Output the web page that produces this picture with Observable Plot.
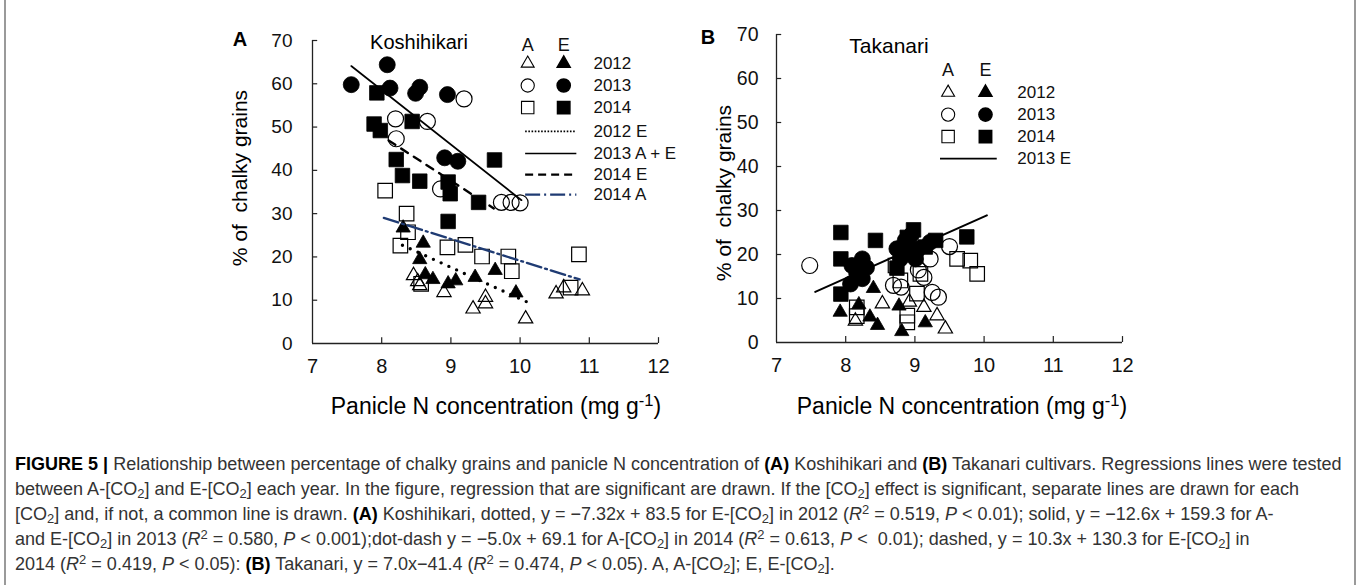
<!DOCTYPE html>
<html><head><meta charset="utf-8">
<script src="https://cdn.jsdelivr.net/npm/d3@7"></script>
<script src="https://cdn.jsdelivr.net/npm/@observablehq/plot@0.6"></script>
<style>
body{margin:0;background:#fff;}
#fig{position:relative;width:1358px;height:585px;overflow:hidden;font-family:"Liberation Sans",Arial,Helvetica,sans-serif;color:#000;}
#frame{position:absolute;left:4px;top:-3px;width:1348px;height:600px;border-left:2px solid #9a9a9a;border-right:2px solid #9a9a9a;}
.abs{position:absolute;white-space:nowrap;line-height:1;transform:translate(-50%,-50%);}
.plot{position:absolute;top:0;}
#caption{position:absolute;left:15px;top:452px;color:#333;white-space:nowrap;}
#caption div{height:25px;line-height:25px;}
#caption b{color:#000;}
sub{font-size:0.72em;vertical-align:-0.25em;line-height:0;}
sup{font-size:0.72em;vertical-align:0.45em;line-height:0;}
</style></head>
<body>
<div id="fig">
  <div id="frame"></div>
  <div class="abs" style="left:240px;top:39px;font-weight:bold;font-size:20px;">A</div>
  <div class="abs" style="left:708px;top:37px;font-weight:bold;font-size:20px;">B</div>
  <div class="abs" style="left:419px;top:42px;font-size:20px;">Koshihikari</div>
  <div class="abs" style="left:889px;top:45px;font-size:21px;">Takanari</div>
  <div class="abs" style="left:239px;top:178px;font-size:21px;transform:translate(-50%,-50%) rotate(-90deg);">% of&nbsp; chalky grains</div>
  <div class="abs" style="left:723px;top:193px;font-size:21px;transform:translate(-50%,-50%) rotate(-90deg);">% of&nbsp; chalky grains</div>
  <div class="abs" style="left:496px;top:406px;font-size:23px;">Panicle N concentration (mg g<sup>-1</sup>)</div>
  <div class="abs" style="left:962px;top:406px;font-size:23px;">Panicle N concentration (mg g<sup>-1</sup>)</div>
  <div id="caption">
    <div id="cap1"><b>FIGURE 5 |</b> Relationship between percentage of chalky grains and panicle N concentration of <b>(A)</b> Koshihikari and <b>(B)</b> Takanari cultivars. Regressions lines were tested</div>
    <div>between A-[CO<sub>2</sub>] and E-[CO<sub>2</sub>] each year. In the figure, regression that are significant are drawn. If the [CO<sub>2</sub>] effect is significant, separate lines are drawn for each</div>
    <div>[CO<sub>2</sub>] and, if not, a common line is drawn. <b>(A)</b> Koshihikari, dotted, y = −7.32x + 83.5 for E-[CO<sub>2</sub>] in 2012 (<i>R</i><sup>2</sup> = 0.519, <i>P</i> &lt; 0.01); solid, y = −12.6x + 159.3 for A-</div>
    <div>and E-[CO<sub>2</sub>] in 2013 (<i>R</i><sup>2</sup> = 0.580, <i>P</i> &lt; 0.001);dot-dash y = −5.0x + 69.1 for A-[CO<sub>2</sub>] in 2014 (<i>R</i><sup>2</sup> = 0.613, <i>P</i> &lt;&nbsp; 0.01); dashed, y = 10.3x + 130.3 for E-[CO<sub>2</sub>] in</div>
    <div>2014 (<i>R</i><sup>2</sup> = 0.419, <i>P</i> &lt; 0.05): <b>(B)</b> Takanari, y = 7.0x−41.4 (<i>R</i><sup>2</sup> = 0.474, <i>P</i> &lt; 0.05). A, A-[CO<sub>2</sub>]; E, E-[CO<sub>2</sub>].</div>
  </div>
</div>
<script>
const FONT = '"Liberation Sans", Arial, Helvetica, sans-serif';
const xTicks = [7, 8, 9, 10, 11, 12];
const yTicks = [0, 10, 20, 30, 40, 50, 60, 70];

// ---- Koshihikari (A) : [panicle N, % chalky] ----
const koshiA2012 = [[8.46,15.7],[8.55,13.4],[8.52,14.3],[8.90,11.8],[9.32,8.0],[9.50,10.7],[9.50,9.2],[10.08,5.7],[10.52,11.5],[10.63,12.9],[10.90,12.2]];
const koshiE2012 = [[8.31,26.7],[8.60,23.2],[8.55,19.4],[8.63,15.9],[8.74,14.8],[8.96,13.8],[9.07,14.5],[9.35,15.3],[9.64,16.9],[9.94,11.7]];
const koshiA2013 = [[8.20,51.9],[8.66,51.3],[8.21,47.3],[9.19,56.5],[8.85,35.7],[9.73,32.6],[9.87,32.6],[10.00,32.5]];
const koshiE2013 = [[7.56,59.8],[8.08,64.4],[8.12,59.0],[8.55,59.2],[8.49,57.8],[8.95,57.5],[8.91,42.9],[9.10,42.1]];
const koshiA2014 = [[8.05,35.3],[8.36,30.0],[8.38,25.7],[8.27,22.6],[8.95,22.2],[9.21,22.8],[9.45,20.1],[9.83,20.1],[9.88,16.7],[10.85,20.6],[10.73,12.9],[8.57,13.8]];
const koshiE2014 = [[7.93,57.9],[7.89,50.7],[7.98,49.2],[8.44,51.3],[8.21,42.5],[8.30,38.8],[8.55,37.5],[8.96,37.3],[9.63,42.4],[8.99,34.6],[9.40,32.6],[8.96,28.2]];
// regression line end points
const koshiLine2012E = [[8.30,22.7],[10.14,9.3]];
const koshiLine2013 = [[7.56,64.1],[10.02,33.1]];
const koshiLine2014E = [[8.10,46.9],[9.62,31.2]];
const koshiLine2014A = [[8.03,29.0],[10.86,14.8]];

// ---- Takanari (B) ----
const takaA2012 = [[8.14,4.9],[8.53,8.8],[8.92,9.2],[9.13,8.0],[9.32,6.1],[9.44,3.1]];
const takaE2012 = [[7.92,6.9],[8.19,8.6],[8.35,5.8],[8.46,3.9],[8.40,12.3],[8.77,8.3],[8.81,2.5],[9.15,4.5]];
const takaA2013 = [[7.48,17.5],[9.50,21.8],[9.22,19.0],[9.13,14.8],[8.69,13.0],[8.80,12.6],[9.25,11.4],[9.34,10.3],[9.05,16.5]];
const takaE2013 = [[8.24,19.0],[8.09,17.5],[8.16,15.6],[8.07,13.3],[8.24,14.5],[8.30,17.0],[8.74,21.3],[8.79,19.0],[8.86,23.2],[8.93,20.5],[9.05,21.3],[9.01,19.0],[9.22,22.8],[8.95,24.5]];
const takaA2014 = [[9.61,19.0],[9.80,18.6],[9.90,15.6],[9.08,15.6],[8.72,17.5],[8.79,14.1],[9.03,11.1],[8.89,6.1],[8.16,8.0],[8.16,6.0],[8.89,4.6]];
const takaE2014 = [[7.93,25.0],[8.43,23.2],[7.93,19.0],[7.93,11.0],[8.98,25.6],[8.89,23.9],[8.74,16.9],[9.15,21.7],[9.30,23.2],[9.75,24.0]];
const takaLine2013E = [[7.56,11.5],[10.04,28.9]];

// legend texts
const yearLabels = ["2012", "2013", "2014"];
const legendLinesA = ["2012 E", "2013 A + E", "2014 E", "2014 A"];
const legendLinesB = ["2013 E"];

const X = d => d[0], Y = d => d[1];
const SYM = {triangle: {symbol: "triangle", r: 5.3}, circle: {symbol: "circle", r: 8}, square: {symbol: "square", r: 8.2}};
const LSYM = {triangle: {symbol: "triangle", r: 4.8}, circle: {symbol: "circle", r: 6.6}, square: {symbol: "square", r: 7}};

function pts(data, shape, filled) {
  return Plot.dot(data, {x: X, y: Y, ...SYM[shape], fill: filled ? "#000" : "none", stroke: "#000", strokeWidth: filled ? 0.8 : 1.2});
}
function axes(tickLenX, tickLenY, fsz, pad) {
  return [
    Plot.ruleY([0], {x1: 7, x2: 12, stroke: "#222", strokeWidth: 1.3}),
    Plot.ruleX([7], {y1: 0, y2: 70, stroke: "#222", strokeWidth: 1.3}),
    Plot.ruleY(yTicks.slice(1), {y: d => d, x1: 7, x2: 7 + tickLenX, stroke: "#222", strokeWidth: 1.2}),
    Plot.ruleX(xTicks.slice(1), {x: d => d, y1: 0, y2: tickLenY, stroke: "#222", strokeWidth: 1.2}),
    Plot.axisY(yTicks, {tickSize: 0, tickPadding: pad, fontSize: fsz, fill: "#111", label: null}),
    Plot.axisX(xTicks, {tickSize: 0, tickPadding: 15, fontSize: 20, fill: "#111", label: null})
  ];
}
function legendRow(label, y, xa, xe, xl, shape) {
  return [
    Plot.dot([[xa, y]], {x: X, y: Y, ...LSYM[shape], fill: "none", stroke: "#000", strokeWidth: 1.1}),
    Plot.dot([[xe, y]], {x: X, y: Y, ...LSYM[shape], fill: "#000", stroke: "#000"}),
    Plot.text([label], {x: xl, y: y, text: d => d, textAnchor: "start", fontSize: 17, fill: "#111"})
  ];
}

// ---- Panel A ----
const legA = {xa: 10.11, xe: 10.63, xl: 11.06, head: 69.0, rows: [64.7, 59.6, 54.5], lines: [49.0, 43.9, 39.0, 34.4], lx1: 10.08, lx2: 10.82};
const lineStyles = [
  {stroke: "#000", strokeWidth: 1.6, strokeDasharray: "1.6,1.6"},
  {stroke: "#000", strokeWidth: 1.7},
  {stroke: "#000", strokeWidth: 2.2, strokeDasharray: "8,5"},
  {stroke: "#1f3b73", strokeWidth: 2.2, strokeDasharray: "15,4,2,4"}
];
const plotA = Plot.plot({
  width: 480, height: 400,
  marginLeft: 112, marginRight: 22, marginTop: 40, marginBottom: 57,
  x: {domain: [7, 12]}, y: {domain: [0, 70]},
  style: {fontFamily: FONT, background: "transparent", overflow: "visible"},
  marks: [
    ...axes(0.075, 1.35, 19, 20),
    pts(koshiA2012, "triangle", false),
    pts(koshiA2013, "circle", false),
    pts(koshiA2014, "square", false),
    pts(koshiE2012, "triangle", true),
    pts(koshiE2013, "circle", true),
    pts(koshiE2014, "square", true),
    Plot.line(koshiLine2012E, {x: X, y: Y, stroke: "#000", strokeWidth: 3.4, strokeDasharray: "0,8.5", strokeLinecap: "round"}),
    Plot.line(koshiLine2013, {x: X, y: Y, stroke: "#000", strokeWidth: 1.7}),
    Plot.line(koshiLine2014E, {x: X, y: Y, stroke: "#000", strokeWidth: 2.4, strokeDasharray: "8,7"}),
    Plot.line(koshiLine2014A, {x: X, y: Y, stroke: "#1f3b73", strokeWidth: 2.3, strokeDasharray: "15,4,2,4"}),
    // legend
    Plot.text(["A", "E"], {x: (d, i) => [legA.xa, legA.xe][i], y: legA.head, text: d => d, fontSize: 18, fill: "#111"}),
    ...legendRow(yearLabels[0], legA.rows[0], legA.xa, legA.xe, legA.xl, "triangle"),
    ...legendRow(yearLabels[1], legA.rows[1], legA.xa, legA.xe, legA.xl, "circle"),
    ...legendRow(yearLabels[2], legA.rows[2], legA.xa, legA.xe, legA.xl, "square"),
    ...legendLinesA.flatMap((lab, i) => [
      Plot.ruleY([legA.lines[i]], {x1: legA.lx1, x2: legA.lx2, ...lineStyles[i]}),
      Plot.text([lab], {x: legA.xl, y: legA.lines[i], text: d => d, textAnchor: "start", fontSize: 17, fill: "#111"})
    ])
  ]
});
plotA.classList.add("plot");
plotA.style.left = "200px";
document.getElementById("fig").appendChild(plotA);

// ---- Panel B ----
const legB = {xa: 9.48, xe: 10.02, xl: 10.48, head: 61.8, rows: [56.8, 51.8, 46.8], lines: [41.8], lx1: 9.37, lx2: 10.19};
const plotB = Plot.plot({
  width: 470, height: 400,
  marginLeft: 96, marginRight: 28, marginTop: 34, marginBottom: 58,
  x: {domain: [7, 12]}, y: {domain: [0, 70]},
  style: {fontFamily: FONT, background: "transparent", overflow: "visible"},
  marks: [
    ...axes(0.075, 1.35, 19.5, 18),
    pts(takaA2012, "triangle", false),
    pts(takaA2013, "circle", false),
    pts(takaA2014, "square", false),
    pts(takaE2012, "triangle", true),
    pts(takaE2013, "circle", true),
    pts(takaE2014, "square", true),
    Plot.line(takaLine2013E, {x: X, y: Y, stroke: "#000", strokeWidth: 2}),
    Plot.text(["A", "E"], {x: (d, i) => [legB.xa, legB.xe][i], y: legB.head, text: d => d, fontSize: 18, fill: "#111"}),
    ...legendRow(yearLabels[0], legB.rows[0], legB.xa, legB.xe, legB.xl, "triangle"),
    ...legendRow(yearLabels[1], legB.rows[1], legB.xa, legB.xe, legB.xl, "circle"),
    ...legendRow(yearLabels[2], legB.rows[2], legB.xa, legB.xe, legB.xl, "square"),
    Plot.ruleY([legB.lines[0]], {x1: legB.lx1, x2: legB.lx2, stroke: "#000", strokeWidth: 1.8}),
    Plot.text(legendLinesB, {x: legB.xl, y: legB.lines[0], text: d => d, textAnchor: "start", fontSize: 17, fill: "#111"})
  ]
});
plotB.classList.add("plot");
plotB.style.left = "680px";
document.getElementById("fig").appendChild(plotB);

// fit caption width to the reference line length
const cap = document.getElementById("caption");
cap.style.fontSize = "16px";
const w = document.getElementById("cap1").getBoundingClientRect().width;
cap.style.fontSize = (16 * 1327 / w).toFixed(2) + "px";
</script>
</body></html>
